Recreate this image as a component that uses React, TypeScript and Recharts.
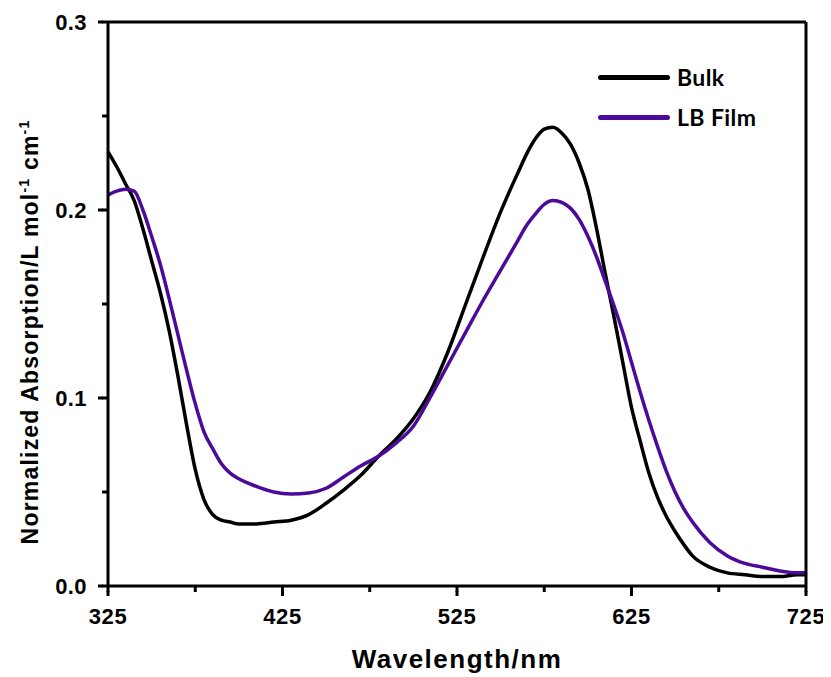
import { LineChart, Line, XAxis, YAxis, Legend } from "recharts"

const wavelengths = [
  325, 330, 335, 340, 345, 350, 355, 360, 365, 370, 375, 380, 385, 390, 395, 400,
  410, 420, 430, 440, 450, 460, 470, 480, 490, 500, 510, 520, 530, 540, 550, 560,
  565, 570, 575, 580, 585, 590, 595, 600, 605, 610, 615, 620, 625, 630, 635, 640,
  645, 650, 655, 660, 670, 680, 690, 700, 710, 720, 725,
]

const bulk = [
  0.231, 0.223, 0.214, 0.205, 0.19, 0.173, 0.156, 0.136, 0.112, 0.086, 0.062, 0.046, 0.038, 0.035, 0.034, 0.033,
  0.033, 0.034, 0.035, 0.038, 0.044, 0.051, 0.059, 0.069, 0.078, 0.089, 0.104, 0.125, 0.15, 0.175, 0.199, 0.22,
  0.23, 0.238, 0.243, 0.244, 0.241, 0.235, 0.225, 0.211, 0.19, 0.166, 0.143, 0.119, 0.095, 0.077, 0.06, 0.047,
  0.037, 0.029, 0.022, 0.016, 0.01, 0.007, 0.006, 0.005, 0.005, 0.006, 0.006,
]

const lbFilm = [
  0.208, 0.21, 0.211, 0.21, 0.2, 0.186, 0.171, 0.153, 0.134, 0.115, 0.097, 0.082, 0.073, 0.065, 0.06, 0.057,
  0.053, 0.05, 0.049, 0.0495, 0.052, 0.058, 0.064, 0.069, 0.076, 0.085, 0.101, 0.118, 0.135, 0.152, 0.168, 0.184,
  0.192, 0.198, 0.203, 0.205, 0.204, 0.201, 0.195, 0.186, 0.175, 0.162, 0.149, 0.135, 0.119, 0.103, 0.088, 0.074,
  0.061, 0.05, 0.041, 0.034, 0.023, 0.016, 0.012, 0.01, 0.008, 0.007, 0.007,
]

const xTicks = [325, 375, 425, 475, 525, 575, 625, 675, 725]
const xMajor = [325, 425, 525, 625, 725]
const yTicks = [0, 0.05, 0.1, 0.15, 0.2, 0.25, 0.3]
const yMajor = [0, 0.1, 0.2, 0.3]

const data = wavelengths.map((w, i) => ({ w, bulk: bulk[i], lb: lbFilm[i] }))

const FONT = "'Liberation Sans', Arial, sans-serif"
const PURPLE = "#4b0a99"
const AXIS = { stroke: "#000", strokeWidth: 3 }

// recharts draws every tick 6px long, majors get a few px more here
const XTick = ({ x, y, payload }: any) => {
  if (!xMajor.includes(payload.value)) return <g />
  return (
    <g>
      <rect x={x - 1.5} y={y - 1} width={3} height={5} fill="#000" />
      <text x={x} y={y + 32} textAnchor="middle" fontFamily={FONT} fontWeight="bold" fontSize={22} letterSpacing={0.6} fill="#000">
        {payload.value}
      </text>
    </g>
  )
}

const YTick = ({ x, y, payload }: any) => {
  if (!yMajor.some((v) => Math.abs(v - payload.value) < 1e-9)) return <g />
  return (
    <g>
      <rect x={x - 4} y={y - 1.5} width={5} height={3} fill="#000" />
      <text x={x - 15} y={y + 8} textAnchor="end" fontFamily={FONT} fontWeight="bold" fontSize={22} letterSpacing={0.4} fill="#000">
        {payload.value.toFixed(1)}
      </text>
    </g>
  )
}

const XLabel = ({ viewBox }: any) => (
  <text x={viewBox.x + viewBox.width / 2} y={viewBox.y + 82} textAnchor="middle" fontFamily={FONT} fontWeight="bold" fontSize={26} letterSpacing={1.5} fill="#000">
    Wavelength/nm
  </text>
)

const YLabel = () => (
  <text transform="rotate(-90, 30, 324)" x={30} y={324} textAnchor="middle" fontFamily={FONT} fontWeight="bold" fontSize={23} letterSpacing={1.2} fill="#000">
    Normalized Absorption/L mol
    <tspan dy={-9} fontSize={14}>-1</tspan>
    <tspan dy={9}> cm</tspan>
    <tspan dy={-9} fontSize={14}>-1</tspan>
  </text>
)

const LegendBox = ({ payload }: any) => (
  <div>
    {(payload || []).map((p: any) => (
      <div key={p.value} style={{ display: "flex", alignItems: "center", height: 40 }}>
        <span style={{ display: "inline-block", width: 72, height: 5, borderRadius: 3, background: p.color }} />
        <span style={{ marginLeft: 7, fontFamily: "Lato, sans-serif", fontWeight: 700, fontSize: 23, letterSpacing: 0.4, color: "#000" }}>
          {p.value}
        </span>
      </div>
    ))}
  </div>
)

export default function App() {
  return (
    <LineChart width={823} height={665} data={data} margin={{ top: 13, right: 24, bottom: 0, left: 0 }}>
      <XAxis
        dataKey="w"
        type="number"
        domain={[325, 725]}
        ticks={xTicks}
        interval={0}
        height={87}
        tickSize={6}
        tickMargin={0}
        tickLine={AXIS}
        tick={<XTick />}
        axisLine={AXIS}
        label={<XLabel />}
      />
      <XAxis xAxisId="top" orientation="top" dataKey="w" type="number" domain={[325, 725]} height={1} tick={false} tickLine={false} axisLine={AXIS} />
      <YAxis
        type="number"
        domain={[0, 0.3]}
        ticks={yTicks}
        interval={0}
        width={100}
        tickSize={6}
        tickMargin={0}
        tickLine={AXIS}
        tick={<YTick />}
        axisLine={AXIS}
        label={<YLabel />}
      />
      <YAxis yAxisId="right" orientation="right" type="number" domain={[0, 0.3]} width={1} tick={false} tickLine={false} axisLine={AXIS} />
      <Legend
        layout="vertical"
        align="center"
        verticalAlign="middle"
        content={<LegendBox />}
        wrapperStyle={{ position: "absolute", left: 590, top: 49, width: 200 }}
      />
      <Line name="Bulk" dataKey="bulk" stroke="#000" strokeWidth={3.5} dot={false} type="monotone" isAnimationActive={false} />
      <Line name="LB Film" dataKey="lb" stroke={PURPLE} strokeWidth={3.5} dot={false} type="monotone" isAnimationActive={false} />
    </LineChart>
  )
}
